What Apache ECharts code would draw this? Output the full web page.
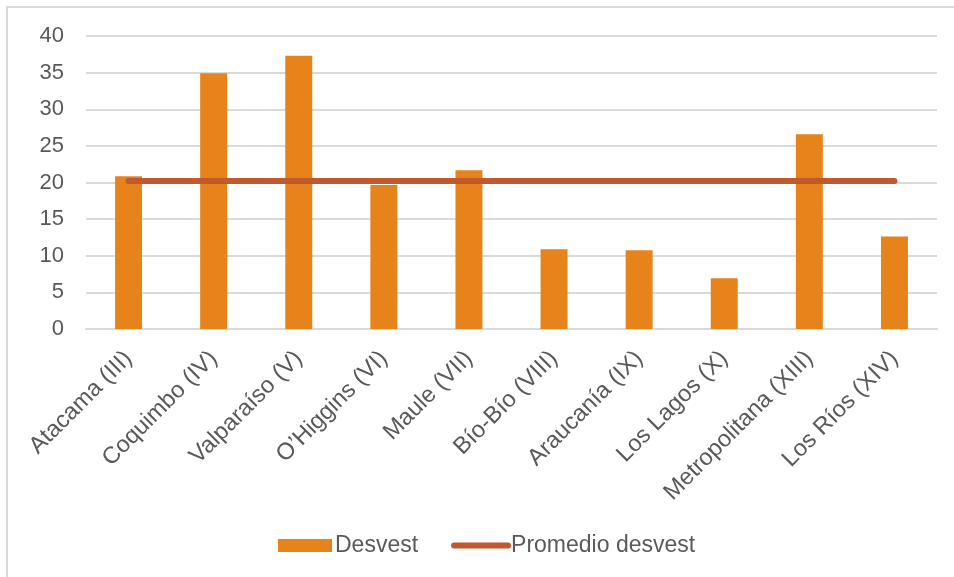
<!DOCTYPE html>
<html>
<head>
<meta charset="utf-8">
<script src="https://cdn.jsdelivr.net/npm/echarts@6/dist/echarts.min.js"></script>
<style>
  html, body { margin: 0; padding: 0; background: #fff; }
  #frame { position: absolute; left: 6px; top: 6px; width: 948px; height: 571px;
           border-left: 2px solid #d9d9d9; border-top: 2px solid #d9d9d9; box-sizing: border-box; }
  #chart { position: absolute; left: 0; top: 0; width: 954px; height: 577px; }
</style>
</head>
<body>
<div id="frame"></div>
<div id="chart"></div>
<script>
// Regions (Chile)
const regions = [
  'Atacama (III)', 'Coquimbo (IV)', 'Valparaíso (V)', 'O\u2019Higgins (VI)', 'Maule (VII)',
  'Bío-Bío (VIII)', 'Araucanía (IX)', 'Los Lagos (X)', 'Metropolitana (XIII)', 'Los Ríos (XIV)'
];
// Standard deviation per region
const desvest = [20.85, 34.9, 37.3, 19.66, 21.67, 10.88, 10.74, 6.92, 26.58, 12.64];
// Average of the standard deviations, repeated for each region
const promedioDesvest = [20.2, 20.2, 20.2, 20.2, 20.2, 20.2, 20.2, 20.2, 20.2, 20.2];
// Value axis ticks
const yTicks = { min: 0, max: 40, interval: 5 };

const textColor = '#595959';
const fontFamily = '"Liberation Sans", Arial, sans-serif';
const lineColor = '#c05a2c';

const chart = echarts.init(document.getElementById('chart'), null, { renderer: 'canvas' });
chart.setOption({
  animation: false,
  textStyle: { fontFamily: fontFamily },
  grid: { left: 86, right: 17, top: 36, bottom: 248, containLabel: false },
  legend: {
    bottom: 15,
    left: 273,
    itemWidth: 54,
    itemHeight: 13,
    itemGap: 33,
    textStyle: { color: textColor, fontSize: 23, fontFamily: fontFamily, padding: [0, 0, 0, -2] },
    data: [
      { name: 'Desvest', icon: 'rect' },
      {
        // line-only key: the series icon draws a line plus a marker, the marker is hidden
        name: 'Promedio desvest',
        itemStyle: { opacity: 0 },
        lineStyle: { color: lineColor, width: 6, cap: 'round', opacity: 1 }
      }
    ]
  },
  xAxis: {
    type: 'category',
    data: regions,
    axisLine: { lineStyle: { color: '#d9d9d9', width: 2 } },
    axisTick: { show: false },
    axisLabel: {
      rotate: 45,
      interval: 0,
      margin: 26,
      color: textColor,
      fontSize: 23.5,
      fontFamily: fontFamily
    }
  },
  yAxis: {
    type: 'value',
    min: yTicks.min,
    max: yTicks.max,
    interval: yTicks.interval,
    axisLine: { show: false },
    axisTick: { show: false },
    splitLine: { lineStyle: { color: '#d9d9d9', width: 2 } },
    axisLabel: { color: textColor, fontSize: 22, margin: 22, fontFamily: fontFamily }
  },
  series: [
    {
      name: 'Desvest',
      type: 'bar',
      data: desvest,
      barWidth: '31.7%',
      itemStyle: { color: '#e6831a' }
    },
    {
      name: 'Promedio desvest',
      type: 'line',
      data: promedioDesvest,
      symbol: 'none',
      lineStyle: { color: lineColor, width: 6, cap: 'round' },
      itemStyle: { color: lineColor }
    }
  ]
});
</script>
</body>
</html>
